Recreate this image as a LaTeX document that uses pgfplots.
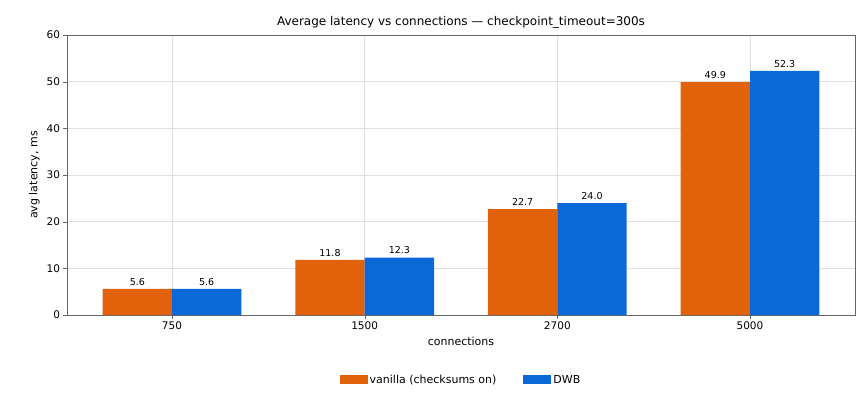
\documentclass[border=0pt]{standalone}
\usepackage{pgfplots}
\pgfplotsset{compat=1.18}
\usepackage{fontspec}
\setmainfont{DejaVu Sans}
\definecolor{cor}{HTML}{E2620C}
\definecolor{cbl}{HTML}{0A68D8}
\begin{document}
\begin{tikzpicture}
\useasboundingbox (-67bp,-100bp) rectangle (798bp,315bp);
\begin{axis}[
  at={(0,0)}, anchor=south west,
  scale only axis, width=788bp, height=280bp,
  xmin=-0.545, xmax=3.545, ymin=0, ymax=60,
  xtick={0,1,2,3}, xticklabels={750,1500,2700,5000},
  ytick={0,10,...,60},
  /pgf/number format/assume math mode=true,
  tick label style={font=\fontsize{10.5bp}{12bp}\selectfont},
  label style={font=\fontsize{11bp}{13bp}\selectfont},
  xlabel={connections}, ylabel={avg latency, ms},
  title={Average latency vs connections — checkpoint\_timeout=300s},
  title style={font=\fontsize{12bp}{14bp}\selectfont, yshift=-3bp},
  grid=major, grid style={gray!25},
  axis line style={gray!80!black},
  tick style={gray!80!black},
  tick align=outside, major tick length=3.5bp,
  xtick pos=bottom, ytick pos=left,
  ybar, bar width=0.36,
  nodes near coords, point meta=explicit symbolic,
  every node near coord/.append style={font=\fontsize{9.5bp}{11bp}\selectfont, black},
  legend style={at={(0.5,-0.2)}, anchor=north, draw=none, legend columns=2,
    font=\fontsize{11bp}{13bp}\selectfont, /tikz/every even column/.append style={column sep=25bp}},
  legend image code/.code={\fill[#1] (0bp,-4bp) rectangle (28bp,5bp);},
]
\addplot[fill=cor, draw=none, bar shift=-0.18] coordinates {(0,5.6)[5.6] (1,11.8)[11.8] (2,22.7)[22.7] (3,49.9)[49.9]};
\addplot[fill=cbl, draw=none, bar shift=0.18] coordinates {(0,5.6)[5.6] (1,12.3)[12.3] (2,24.0)[24.0] (3,52.3)[52.3]};
\legend{vanilla (checksums on),DWB}
\end{axis}
\end{tikzpicture}
\end{document}
